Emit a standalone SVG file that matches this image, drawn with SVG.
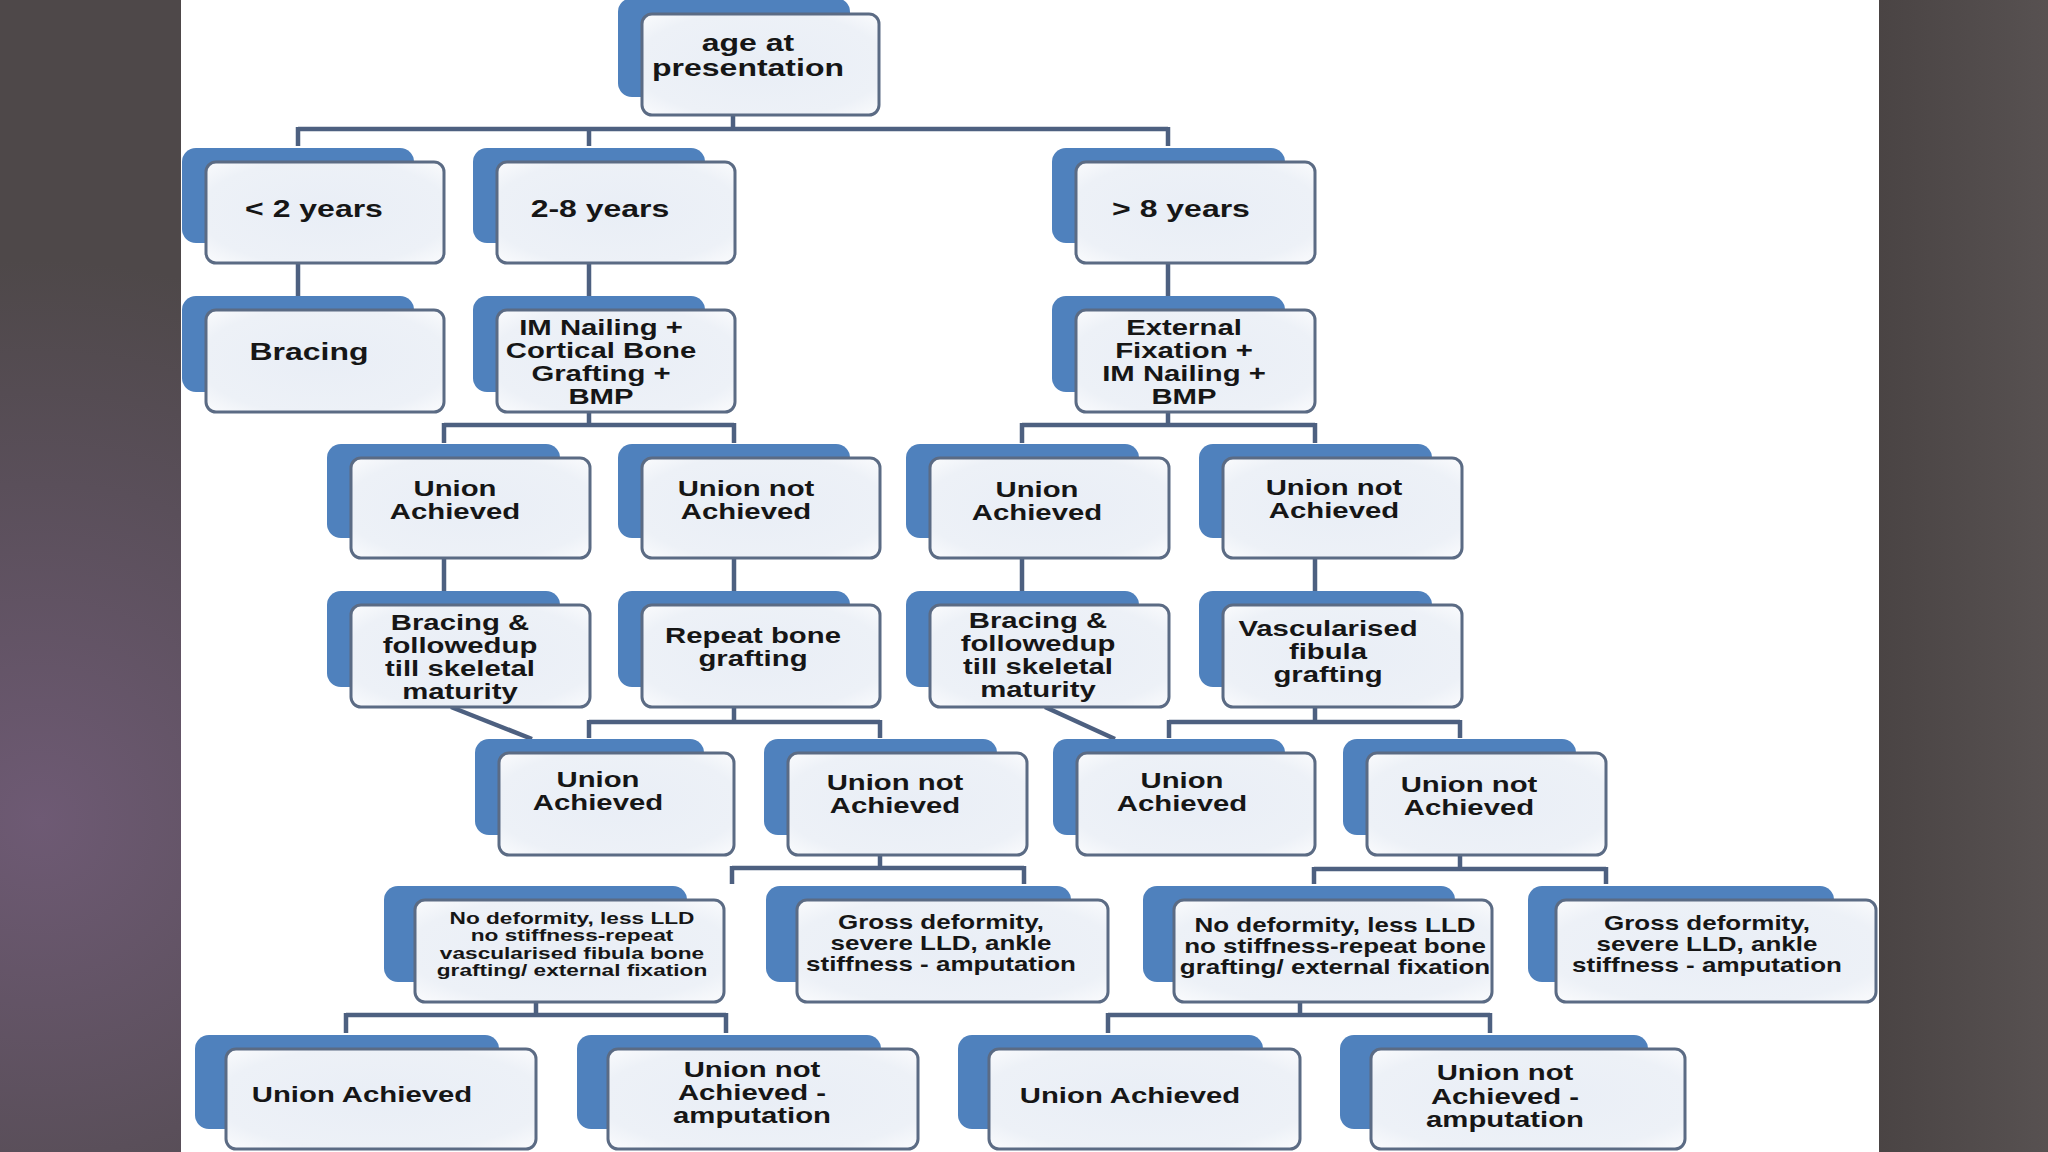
<svg xmlns="http://www.w3.org/2000/svg" width="2048" height="1152" viewBox="0 0 2048 1152">
<defs>
<radialGradient id="leftbg" cx="40" cy="820" r="560" gradientUnits="userSpaceOnUse">
<stop offset="0" stop-color="#6e5a74"/>
<stop offset="0.6" stop-color="#5a4f5a"/>
<stop offset="1" stop-color="#4e4849"/>
</radialGradient>
<linearGradient id="rightbg" x1="0" y1="0" x2="1" y2="0">
<stop offset="0" stop-color="#4a4444"/>
<stop offset="1" stop-color="#575151"/>
</linearGradient>
<radialGradient id="fg" cx="0.5" cy="0.5" r="0.7">
<stop offset="0" stop-color="#e9eef6"/>
<stop offset="0.75" stop-color="#edf1f7"/>
<stop offset="1" stop-color="#fafbfd"/>
</radialGradient>
<style>
.back{fill:#4f81bd}
.front{fill:url(#fg);stroke:#5b6b84;stroke-width:3}
.t{font-family:"Liberation Sans",Arial,sans-serif;font-weight:bold;fill:#161616;text-anchor:middle}
.s24{font-size:24px}
.s22{font-size:22px}
.s20{font-size:19.5px}
.s17{font-size:17px}
.conn{stroke:#4d6080;stroke-width:4.5;fill:none;stroke-linecap:butt}
</style>
</defs>
<rect x="0" y="0" width="2048" height="1152" fill="#ffffff"/>
<rect x="0" y="0" width="181" height="1152" fill="url(#leftbg)"/>
<rect x="1879" y="0" width="169" height="1152" fill="url(#rightbg)"/>

<g id="connectors">
<path class="conn" d="M733,115V129M298,129H1168M298,127V146M589,129V146M1168,127V146"/>
<path class="conn" d="M298,263V296M589,263V296M1168,263V296"/>
<path class="conn" d="M589,412V425M444,425H734M444,423V443M734,423V443"/>
<path class="conn" d="M1168,412V425M1022,425H1315M1022,423V443M1315,423V443"/>
<path class="conn" d="M444,558V591M734,558V591M1022,558V591M1315,558V591"/>
<path class="conn" d="M451,707L532,739"/>
<path class="conn" d="M734,707V722M589,722H880M589,720V738M880,720V738"/>
<path class="conn" d="M1045,707L1115,739"/>
<path class="conn" d="M1315,707V722M1169,722H1460M1169,720V738M1460,720V738"/>
<path class="conn" d="M880,855V868M732,868H1024M732,866V884M1024,866V884"/>
<path class="conn" d="M1460,855V869M1314,869H1606M1314,867V884M1606,867V884"/>
<path class="conn" d="M536,1002V1015M346,1015H726M346,1013V1033M726,1013V1033"/>
<path class="conn" d="M1300,1002V1015M1108,1015H1490M1108,1013V1033M1490,1013V1033"/>
</g>

<g id="n-root">
<rect class="back" x="618" y="-2" width="232" height="99" rx="14"/>
<rect class="front" x="642" y="14" width="237" height="101" rx="10"/>
<text class="t s24" transform="matrix(1.333 0 0 1 748 0)"><tspan x="0" y="51">age at</tspan><tspan x="0" y="76">presentation</tspan></text>
</g>

<g id="n-lt2">
<rect class="back" x="182" y="148" width="232" height="95" rx="14"/>
<rect class="front" x="206" y="162" width="238" height="101" rx="10"/>
<text class="t s24" transform="matrix(1.333 0 0 1 314 0)"><tspan x="0" y="217">&lt; 2 years</tspan></text>
</g>
<g id="n-2to8">
<rect class="back" x="473" y="148" width="232" height="95" rx="14"/>
<rect class="front" x="497" y="162" width="238" height="101" rx="10"/>
<text class="t s24" transform="matrix(1.333 0 0 1 600 0)"><tspan x="0" y="217">2-8 years</tspan></text>
</g>
<g id="n-gt8">
<rect class="back" x="1052" y="148" width="233" height="95" rx="14"/>
<rect class="front" x="1076" y="162" width="239" height="101" rx="10"/>
<text class="t s24" transform="matrix(1.333 0 0 1 1181 0)"><tspan x="0" y="217">&gt; 8 years</tspan></text>
</g>

<g id="n-bracing">
<rect class="back" x="182" y="296" width="232" height="96" rx="14"/>
<rect class="front" x="206" y="310" width="238" height="102" rx="10"/>
<text class="t s24" transform="matrix(1.333 0 0 1 309 0)"><tspan x="0" y="360">Bracing</tspan></text>
</g>
<g id="n-imnail">
<rect class="back" x="473" y="296" width="232" height="96" rx="14"/>
<rect class="front" x="497" y="310" width="238" height="102" rx="10"/>
<text class="t s22" transform="matrix(1.333 0 0 1 601 0)"><tspan x="0" y="335">IM Nailing +</tspan><tspan x="0" y="358">Cortical Bone</tspan><tspan x="0" y="381">Grafting +</tspan><tspan x="0" y="404">BMP</tspan></text>
</g>
<g id="n-extfix">
<rect class="back" x="1052" y="296" width="233" height="96" rx="14"/>
<rect class="front" x="1076" y="310" width="239" height="102" rx="10"/>
<text class="t s22" transform="matrix(1.333 0 0 1 1184 0)"><tspan x="0" y="335">External</tspan><tspan x="0" y="358">Fixation +</tspan><tspan x="0" y="381">IM Nailing +</tspan><tspan x="0" y="404">BMP</tspan></text>
</g>

<g id="n-ua1">
<rect class="back" x="327" y="444" width="233" height="94" rx="14"/>
<rect class="front" x="351" y="458" width="239" height="100" rx="10"/>
<text class="t s22" transform="matrix(1.333 0 0 1 455 0)"><tspan x="0" y="496">Union</tspan><tspan x="0" y="519">Achieved</tspan></text>
</g>
<g id="n-una1">
<rect class="back" x="618" y="444" width="232" height="94" rx="14"/>
<rect class="front" x="642" y="458" width="238" height="100" rx="10"/>
<text class="t s22" transform="matrix(1.333 0 0 1 746 0)"><tspan x="0" y="496">Union not</tspan><tspan x="0" y="519">Achieved</tspan></text>
</g>
<g id="n-ua2">
<rect class="back" x="906" y="444" width="233" height="94" rx="14"/>
<rect class="front" x="930" y="458" width="239" height="100" rx="10"/>
<text class="t s22" transform="matrix(1.333 0 0 1 1037 0)"><tspan x="0" y="497">Union</tspan><tspan x="0" y="520">Achieved</tspan></text>
</g>
<g id="n-una2">
<rect class="back" x="1199" y="444" width="233" height="94" rx="14"/>
<rect class="front" x="1223" y="458" width="239" height="100" rx="10"/>
<text class="t s22" transform="matrix(1.333 0 0 1 1334 0)"><tspan x="0" y="495">Union not</tspan><tspan x="0" y="518">Achieved</tspan></text>
</g>

<g id="n-bfu1">
<rect class="back" x="327" y="591" width="233" height="96" rx="14"/>
<rect class="front" x="351" y="605" width="239" height="102" rx="10"/>
<text class="t s22" transform="matrix(1.333 0 0 1 460 0)"><tspan x="0" y="630">Bracing &amp;</tspan><tspan x="0" y="653">followedup</tspan><tspan x="0" y="676">till skeletal</tspan><tspan x="0" y="699">maturity</tspan></text>
</g>
<g id="n-repeat">
<rect class="back" x="618" y="591" width="232" height="96" rx="14"/>
<rect class="front" x="642" y="605" width="238" height="102" rx="10"/>
<text class="t s22" transform="matrix(1.333 0 0 1 753 0)"><tspan x="0" y="643">Repeat bone</tspan><tspan x="0" y="666">grafting</tspan></text>
</g>
<g id="n-bfu2">
<rect class="back" x="906" y="591" width="233" height="96" rx="14"/>
<rect class="front" x="930" y="605" width="239" height="102" rx="10"/>
<text class="t s22" transform="matrix(1.333 0 0 1 1038 0)"><tspan x="0" y="628">Bracing &amp;</tspan><tspan x="0" y="651">followedup</tspan><tspan x="0" y="674">till skeletal</tspan><tspan x="0" y="697">maturity</tspan></text>
</g>
<g id="n-vasc">
<rect class="back" x="1199" y="591" width="233" height="96" rx="14"/>
<rect class="front" x="1223" y="605" width="239" height="102" rx="10"/>
<text class="t s22" transform="matrix(1.333 0 0 1 1328 0)"><tspan x="0" y="636">Vascularised</tspan><tspan x="0" y="659">fibula</tspan><tspan x="0" y="682">grafting</tspan></text>
</g>

<g id="n-ua3">
<rect class="back" x="475" y="739" width="229" height="96" rx="14"/>
<rect class="front" x="499" y="753" width="235" height="102" rx="10"/>
<text class="t s22" transform="matrix(1.333 0 0 1 598 0)"><tspan x="0" y="787">Union</tspan><tspan x="0" y="810">Achieved</tspan></text>
</g>
<g id="n-una3">
<rect class="back" x="764" y="739" width="233" height="96" rx="14"/>
<rect class="front" x="788" y="753" width="239" height="102" rx="10"/>
<text class="t s22" transform="matrix(1.333 0 0 1 895 0)"><tspan x="0" y="790">Union not</tspan><tspan x="0" y="813">Achieved</tspan></text>
</g>
<g id="n-ua4">
<rect class="back" x="1053" y="739" width="232" height="96" rx="14"/>
<rect class="front" x="1077" y="753" width="238" height="102" rx="10"/>
<text class="t s22" transform="matrix(1.333 0 0 1 1182 0)"><tspan x="0" y="788">Union</tspan><tspan x="0" y="811">Achieved</tspan></text>
</g>
<g id="n-una4">
<rect class="back" x="1343" y="739" width="233" height="96" rx="14"/>
<rect class="front" x="1367" y="753" width="239" height="102" rx="10"/>
<text class="t s22" transform="matrix(1.333 0 0 1 1469 0)"><tspan x="0" y="792">Union not</tspan><tspan x="0" y="815">Achieved</tspan></text>
</g>

<g id="n-nodef1">
<rect class="back" x="384" y="886" width="303" height="96" rx="14"/>
<rect class="front" x="415" y="900" width="309" height="102" rx="10"/>
<text class="t s17" transform="matrix(1.333 0 0 1 572 0)"><tspan x="0" y="924">No deformity, less LLD</tspan><tspan x="0" y="941">no stiffness-repeat</tspan><tspan x="0" y="959">vascularised fibula  bone</tspan><tspan x="0" y="976">grafting/ external fixation</tspan></text>
</g>
<g id="n-gross1">
<rect class="back" x="766" y="886" width="305" height="96" rx="14"/>
<rect class="front" x="797" y="900" width="311" height="102" rx="10"/>
<text class="t s20" transform="matrix(1.333 0 0 1 941 0)"><tspan x="0" y="929">Gross deformity,</tspan><tspan x="0" y="950">severe LLD, ankle</tspan><tspan x="0" y="971">stiffness - amputation</tspan></text>
</g>
<g id="n-nodef2">
<rect class="back" x="1143" y="886" width="312" height="96" rx="14"/>
<rect class="front" x="1174" y="900" width="318" height="102" rx="10"/>
<text class="t s20" transform="matrix(1.333 0 0 1 1335 0)"><tspan x="0" y="932">No deformity, less LLD</tspan><tspan x="0" y="953">no stiffness-repeat bone</tspan><tspan x="0" y="974">grafting/ external fixation</tspan></text>
</g>
<g id="n-gross2">
<rect class="back" x="1528" y="886" width="306" height="96" rx="14"/>
<rect class="front" x="1556" y="900" width="320" height="102" rx="10"/>
<text class="t s20" transform="matrix(1.333 0 0 1 1707 0)"><tspan x="0" y="930">Gross deformity,</tspan><tspan x="0" y="951">severe LLD, ankle</tspan><tspan x="0" y="972">stiffness - amputation</tspan></text>
</g>

<g id="n-ua5">
<rect class="back" x="195" y="1035" width="304" height="94" rx="14"/>
<rect class="front" x="226" y="1049" width="310" height="100" rx="10"/>
<text class="t s22" transform="matrix(1.333 0 0 1 362 0)"><tspan x="0" y="1102">Union Achieved</tspan></text>
</g>
<g id="n-una5">
<rect class="back" x="577" y="1035" width="304" height="94" rx="14"/>
<rect class="front" x="608" y="1049" width="310" height="100" rx="10"/>
<text class="t s22" transform="matrix(1.333 0 0 1 752 0)"><tspan x="0" y="1077">Union not</tspan><tspan x="0" y="1100">Achieved -</tspan><tspan x="0" y="1123">amputation</tspan></text>
</g>
<g id="n-ua6">
<rect class="back" x="958" y="1035" width="305" height="94" rx="14"/>
<rect class="front" x="989" y="1049" width="311" height="100" rx="10"/>
<text class="t s22" transform="matrix(1.333 0 0 1 1130 0)"><tspan x="0" y="1103">Union Achieved</tspan></text>
</g>
<g id="n-una6">
<rect class="back" x="1340" y="1035" width="308" height="94" rx="14"/>
<rect class="front" x="1371" y="1049" width="314" height="100" rx="10"/>
<text class="t s22" transform="matrix(1.333 0 0 1 1505 0)"><tspan x="0" y="1080">Union not</tspan><tspan x="0" y="1104">Achieved -</tspan><tspan x="0" y="1127">amputation</tspan></text>
</g>
</svg>
